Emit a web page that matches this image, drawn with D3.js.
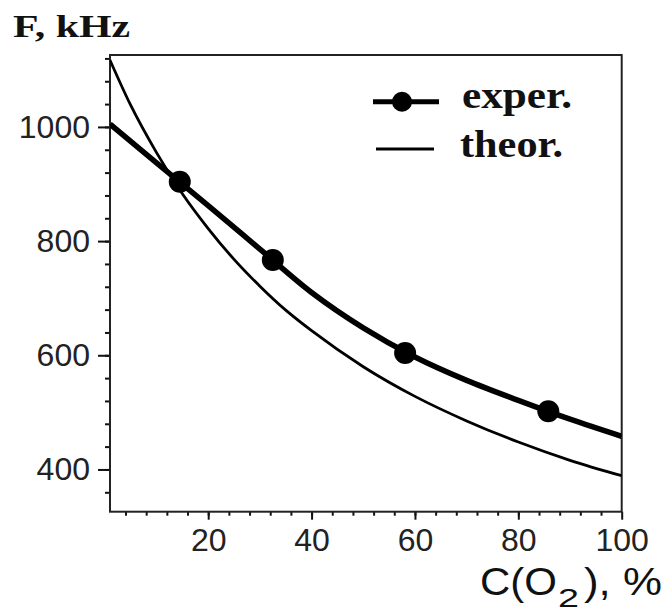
<!DOCTYPE html>
<html>
<head>
<meta charset="utf-8">
<script src="https://cdn.jsdelivr.net/npm/d3@7"></script>
<style>
  html, body { margin: 0; padding: 0; background: #fff; }
  svg { display: block; }
</style>
</head>
<body>
<svg id="chart" width="668" height="613"></svg>
<script>
// ---- data ----
const experX = [1, 10, 20, 30, 40, 50, 60, 70, 80, 90, 100];
const experF = [1005, 937, 862, 786, 710, 648, 597, 556, 521, 488, 458];
const pointX = [14.5, 32.5, 58.1, 85.8];
const pointF = [904, 767, 604, 502];
const theorX = [1, 5, 10, 15, 20, 25, 30, 35, 40, 50, 60, 70, 80, 90, 100];
const theorF = [1117, 1038, 955, 883, 822, 768, 721, 679, 643, 580, 528, 485, 448, 416, 389];
const xTicks = [20, 40, 60, 80, 100];
const yTicks = [400, 600, 800, 1000];
const legendLabels = ["exper.", "theor."];

// ---- layout ----
const L = 110, R = 621.7, T = 55, B = 511.7;
const svg = d3.select("#chart");
const x = d3.scaleLinear().domain([1, 100]).range([L, R]);
const y = d3.scaleLinear().domain([326, 1126]).range([B, T]);

const sans = "'Liberation Sans', Arial, sans-serif";
const serif = "'Liberation Serif', 'Times New Roman', serif";

// minor ticks
const xMinor = d3.range(4, 100, 4);
const yMinor = d3.range(360, 1126, 40);

svg.append("g").attr("transform", `translate(0,${B})`)
  .call(d3.axisBottom(x).tickValues(xMinor).tickSize(4).tickFormat(""))
  .call(g => g.select(".domain").remove())
  .call(g => g.selectAll("line").attr("stroke", "#111").attr("stroke-width", 2));
svg.append("g").attr("transform", `translate(${L},0)`)
  .call(d3.axisLeft(y).tickValues(yMinor).tickSize(5).tickFormat(""))
  .call(g => g.select(".domain").remove())
  .call(g => g.selectAll("line").attr("stroke", "#111").attr("stroke-width", 2));

// major ticks + labels
svg.append("g").attr("transform", `translate(0,${B})`)
  .call(d3.axisBottom(x).tickValues(xTicks).tickSize(8).tickPadding(8.5).tickFormat(d3.format("d")))
  .call(g => g.select(".domain").remove())
  .call(g => g.selectAll("line").attr("stroke", "#111").attr("stroke-width", 2))
  .call(g => g.selectAll("text").attr("font-family", sans).attr("font-size", 32).attr("fill", "#222"));
svg.append("g").attr("transform", `translate(${L},0)`)
  .call(d3.axisLeft(y).tickValues(yTicks).tickSize(12).tickPadding(8).tickFormat(d3.format("d")))
  .call(g => g.select(".domain").remove())
  .call(g => g.selectAll("line").attr("stroke", "#111").attr("stroke-width", 2))
  .call(g => g.selectAll("text").attr("font-family", sans).attr("font-size", 32).attr("fill", "#222"));

// frame
svg.append("rect").attr("x", L).attr("y", T).attr("width", R - L).attr("height", B - T)
  .attr("fill", "none").attr("stroke", "#222").attr("stroke-width", 2);

// clip
svg.append("clipPath").attr("id", "clip").append("rect")
  .attr("x", L).attr("y", T).attr("width", R - L).attr("height", B - T);

const line = d3.line().x(d => x(d[0])).y(d => y(d[1])).curve(d3.curveMonotoneX);

svg.append("path").attr("clip-path", "url(#clip)")
  .datum(theorX.map((v, i) => [v, theorF[i]]))
  .attr("d", line).attr("fill", "none").attr("stroke", "#000").attr("stroke-width", 2.8);

svg.append("path").attr("clip-path", "url(#clip)")
  .datum(experX.map((v, i) => [v, experF[i]]))
  .attr("d", line).attr("fill", "none").attr("stroke", "#000").attr("stroke-width", 5.5)
  .attr("stroke-linejoin", "round");

svg.append("g").selectAll("circle")
  .data(pointX.map((v, i) => [v, pointF[i]]))
  .join("circle")
  .attr("cx", d => x(d[0])).attr("cy", d => y(d[1])).attr("r", 11).attr("fill", "#000");

// legend
const lg = svg.append("g");
lg.append("line").attr("x1", 373).attr("x2", 439).attr("y1", 101.7).attr("y2", 101.7)
  .attr("stroke", "#000").attr("stroke-width", 5);
lg.append("circle").attr("cx", 402).attr("cy", 101.7).attr("r", 10).attr("fill", "#000");
lg.append("line").attr("x1", 376).attr("x2", 434).attr("y1", 149).attr("y2", 149)
  .attr("stroke", "#000").attr("stroke-width", 2.8);
lg.append("text").attr("x", 462).attr("y", 108).text(legendLabels[0])
  .attr("font-family", serif).attr("font-weight", "bold").attr("font-size", 38)
  .attr("textLength", 110).attr("lengthAdjust", "spacingAndGlyphs").attr("fill", "#111");
lg.append("text").attr("x", 460).attr("y", 157).text(legendLabels[1])
  .attr("font-family", serif).attr("font-weight", "bold").attr("font-size", 38)
  .attr("textLength", 103).attr("lengthAdjust", "spacingAndGlyphs").attr("fill", "#111");

// y-axis title
svg.append("text").attr("x", 13).attr("y", 37).text("F, kHz")
  .attr("font-family", serif).attr("font-weight", "bold").attr("font-size", 32)
  .attr("textLength", 117).attr("lengthAdjust", "spacingAndGlyphs").attr("fill", "#111");

// x-axis title C(O2), %
svg.append("text").attr("x", 480).attr("y", 595).text("C(O")
  .attr("font-family", sans).attr("font-size", 39)
  .attr("textLength", 77).attr("lengthAdjust", "spacingAndGlyphs").attr("fill", "#111");
svg.append("text").attr("x", 558).attr("y", 607).text("2")
  .attr("font-family", sans).attr("font-size", 26)
  .attr("textLength", 21).attr("lengthAdjust", "spacingAndGlyphs").attr("fill", "#111");
svg.append("text").attr("x", 584).attr("y", 595).text("), %")
  .attr("font-family", sans).attr("font-size", 39)
  .attr("textLength", 78).attr("lengthAdjust", "spacingAndGlyphs").attr("fill", "#111");
</script>
</body>
</html>
